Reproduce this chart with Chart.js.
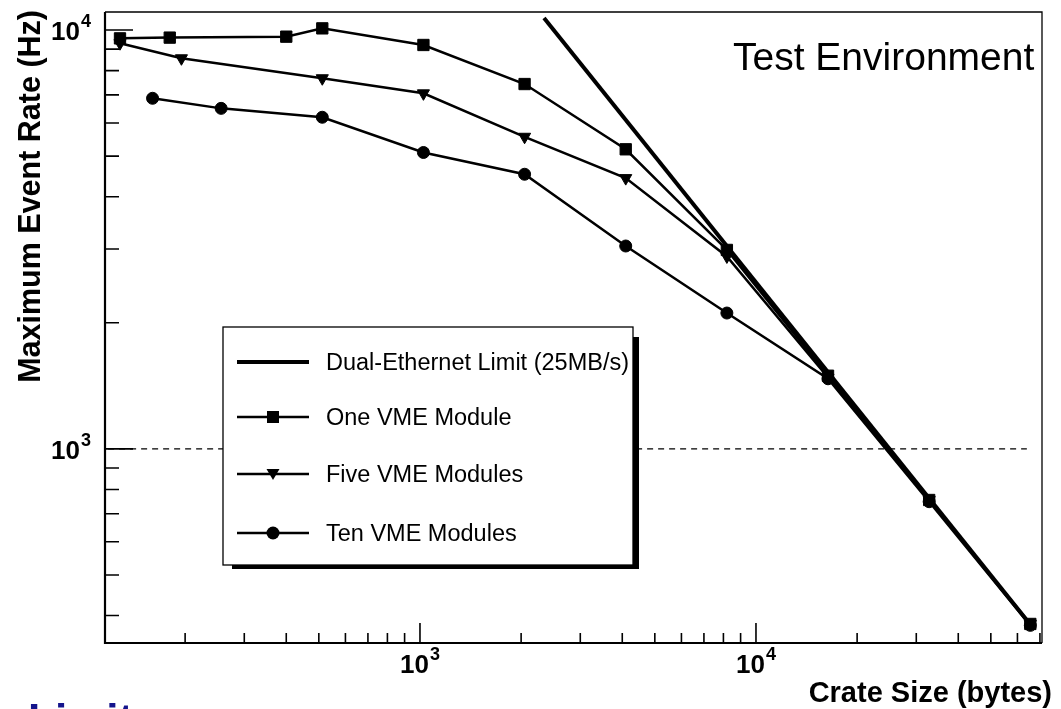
<!DOCTYPE html>
<html>
<head>
<meta charset="utf-8">
<title>Maximum Event Rate vs Crate Size</title>
<script src="https://cdn.jsdelivr.net/npm/chart.js"></script>
<style>
  html, body { margin: 0; padding: 0; background: #fff; }
  canvas { display: block; }
</style>
</head>
<body>
<canvas id="rateChart" width="1061" height="709"></canvas>
<script>
// values: crate size in bytes, max event rate in Hz
const limitSizes = [2340, 65536];
const limitRates = [10680, 381];

const oneSizes = [128, 180, 400, 512, 1024, 2048, 4096, 8192, 16384, 32768, 65536];
const oneRates = [9550, 9590, 9640, 10090, 9210, 7430, 5190, 2985, 1495, 755, 382];

const fiveSizes = [128, 195, 512, 1024, 2048, 4096, 8192, 16384, 32768, 65536];
const fiveRates = [9300, 8560, 7670, 7060, 5560, 4430, 2880, 1480, 755, 382];

const tenSizes = [160, 256, 512, 1024, 2048, 4096, 8192, 16384, 32768, 65536];
const tenRates = [6870, 6500, 6190, 5100, 4525, 3050, 2110, 1470, 748, 379];

const seriesLabels = [
  "Dual-Ethernet Limit (25MB/s)",
  "One VME Module",
  "Five VME Modules",
  "Ten VME Modules",
];

// axis ticks
const xMajorTicks = [1000, 10000];
const xMinorTicks = [200, 300, 400, 500, 600, 700, 800, 900,
  2000, 3000, 4000, 5000, 6000, 7000, 8000, 9000,
  20000, 30000, 40000, 50000, 60000, 70000];
const yMajorTicks = [1000, 10000];
const yMinorTicks = [400, 500, 600, 700, 800, 900,
  2000, 3000, 4000, 5000, 6000, 7000, 8000, 9000];

// dashed line at 10^3 Hz
const refRate = 1000;
const refFrom = 118;
const refTo = 64000;

const FONT = "'Liberation Sans', Arial, Helvetica, sans-serif";

function points(xs, ys) {
  return xs.map((v, i) => ({ x: v, y: ys[i] }));
}

const datasets = [
  { label: seriesLabels[0], data: points(limitSizes, limitRates),
    borderWidth: 4, pointRadius: 0, pointStyle: false },
  { label: seriesLabels[1], data: points(oneSizes, oneRates),
    borderWidth: 2.5, pointStyle: "rect", pointRadius: 8, pointRotation: 0 },
  { label: seriesLabels[2], data: points(fiveSizes, fiveRates),
    borderWidth: 2.5, pointStyle: "triangle", pointRadius: 7, pointRotation: 180 },
  { label: seriesLabels[3], data: points(tenSizes, tenRates),
    borderWidth: 2.5, pointStyle: "circle", pointRadius: 6 },
].map((d) => Object.assign({
  borderColor: "#000",
  backgroundColor: "#000",
  pointBackgroundColor: "#000",
  pointBorderColor: "#000",
  pointBorderWidth: 1,
  tension: 0,
}, d));

function drawPower(ctx, exp, x, baseline, align) {
  ctx.font = "bold 26px " + FONT;
  const wMain = ctx.measureText("10").width;
  ctx.font = "bold 18px " + FONT;
  const wSup = ctx.measureText(exp).width;
  const total = wMain + 1 + wSup;
  let left = align === "right" ? x - total : x - total / 2;
  ctx.textAlign = "left";
  ctx.textBaseline = "alphabetic";
  ctx.font = "bold 26px " + FONT;
  ctx.fillText("10", left, baseline);
  ctx.font = "bold 18px " + FONT;
  ctx.fillText(exp, left + wMain + 1, baseline - 13);
}

function drawMarker(ctx, style, x, y) {
  ctx.beginPath();
  if (style === "rect") {
    ctx.rect(x - 6, y - 6, 12, 12);
  } else if (style === "triangle") {
    ctx.moveTo(x - 6.5, y - 5);
    ctx.lineTo(x + 6.5, y - 5);
    ctx.lineTo(x, y + 6);
    ctx.closePath();
  } else if (style === "circle") {
    ctx.arc(x, y, 6.5, 0, Math.PI * 2);
  }
  ctx.fill();
}

const rootStyle = {
  id: "rootStyle",
  afterDraw(chart) {
    const { ctx, chartArea: a, scales: { x, y } } = chart;
    ctx.save();
    ctx.fillStyle = "#000";
    ctx.strokeStyle = "#000";

    // dashed reference line
    const yr = y.getPixelForValue(refRate);
    ctx.lineWidth = 1.2;
    ctx.setLineDash([6, 5]);
    ctx.beginPath();
    ctx.moveTo(x.getPixelForValue(refFrom), yr);
    ctx.lineTo(x.getPixelForValue(refTo), yr);
    ctx.stroke();
    ctx.setLineDash([]);

    // frame: thin top/right, thicker axes
    ctx.lineWidth = 1.3;
    ctx.beginPath();
    ctx.moveTo(a.left, a.top);
    ctx.lineTo(a.right, a.top);
    ctx.lineTo(a.right, a.bottom);
    ctx.stroke();
    ctx.lineWidth = 2.2;
    ctx.beginPath();
    ctx.moveTo(a.left, a.top);
    ctx.lineTo(a.left, a.bottom);
    ctx.lineTo(a.right, a.bottom);
    ctx.stroke();

    // inward ticks
    ctx.lineWidth = 1.6;
    ctx.beginPath();
    xMinorTicks.forEach((v) => {
      const px = x.getPixelForValue(v);
      ctx.moveTo(px, a.bottom); ctx.lineTo(px, a.bottom - 10);
    });
    xMajorTicks.forEach((v) => {
      const px = x.getPixelForValue(v);
      ctx.moveTo(px, a.bottom); ctx.lineTo(px, a.bottom - 20);
    });
    yMinorTicks.forEach((v) => {
      const py = y.getPixelForValue(v);
      ctx.moveTo(a.left, py); ctx.lineTo(a.left + 14, py);
    });
    yMajorTicks.forEach((v) => {
      const py = y.getPixelForValue(v);
      ctx.moveTo(a.left, py); ctx.lineTo(a.left + 28, py);
    });
    ctx.stroke();

    // tick labels
    xMajorTicks.forEach((v) => {
      drawPower(ctx, String(Math.round(Math.log10(v))), x.getPixelForValue(v), a.bottom + 30, "center");
    });
    yMajorTicks.forEach((v) => {
      drawPower(ctx, String(Math.round(Math.log10(v))), a.left - 14, y.getPixelForValue(v) + 10, "right");
    });

    // axis titles
    ctx.font = "bold 29px " + FONT;
    ctx.textAlign = "right";
    ctx.textBaseline = "alphabetic";
    ctx.fillText("Crate Size (bytes)", a.right + 10, a.bottom + 59);

    ctx.save();
    ctx.translate(40, a.top - 2);
    ctx.rotate(-Math.PI / 2);
    ctx.font = "bold 30.5px " + FONT;
    ctx.textAlign = "right";
    ctx.fillText("Maximum Event Rate (Hz)", 0, 0);
    ctx.restore();

    // label in the top right
    ctx.font = "39px " + FONT;
    ctx.textAlign = "left";
    ctx.fillText("Test Environment", a.left + 628, a.top + 58);

    // legend with drop shadow
    const lx = a.left + 118, ly = a.top + 315, lw = 410, lh = 238;
    ctx.fillRect(lx + 9, ly + 10, lw - 3, lh - 6);
    ctx.fillStyle = "#fff";
    ctx.fillRect(lx, ly, lw, lh);
    ctx.fillStyle = "#000";
    ctx.lineWidth = 1.3;
    ctx.strokeRect(lx, ly, lw, lh);
    const rows = [35, 90, 147, 206];
    chart.data.datasets.forEach((ds, i) => {
      const ry = ly + rows[i];
      ctx.lineWidth = ds.borderWidth;
      ctx.beginPath();
      ctx.moveTo(lx + 14, ry);
      ctx.lineTo(lx + 86, ry);
      ctx.stroke();
      if (ds.pointStyle) drawMarker(ctx, ds.pointStyle, lx + 50, ry);
      ctx.font = "23.5px " + FONT;
      ctx.textAlign = "left";
      ctx.fillText(ds.label, lx + 103, ry + 8);
    });

    // cut-off slide heading at the bottom edge
    ctx.fillStyle = "#14148c";
    ctx.font = "bold 44px " + FONT;
    ctx.fillText("Limit", 28, 735);

    ctx.restore();
  },
};

new Chart(document.getElementById("rateChart"), {
  type: "line",
  data: { datasets },
  options: {
    responsive: false,
    animation: false,
    layout: { padding: { left: 105, top: 12, right: 19, bottom: 66 } },
    scales: {
      x: { type: "logarithmic", min: 115.5, max: 71000, display: false },
      y: { type: "logarithmic", min: 344, max: 11040, display: false },
    },
    plugins: { legend: { display: false }, tooltip: { enabled: false } },
  },
  plugins: [rootStyle],
});
</script>
</body>
</html>
